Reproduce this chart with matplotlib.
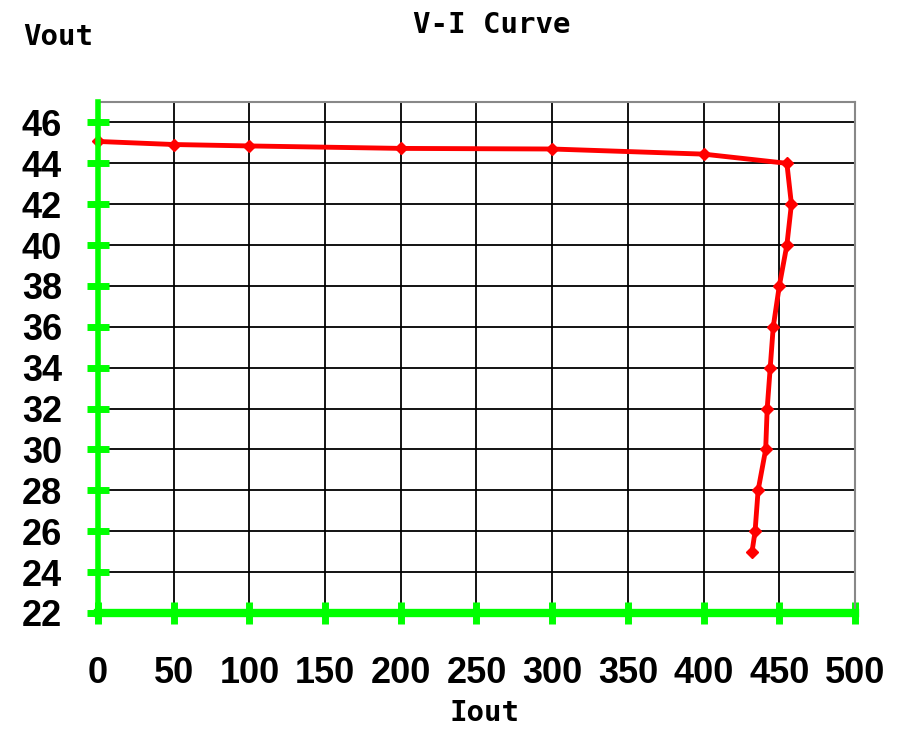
import matplotlib
matplotlib.use('Agg')
import matplotlib.pyplot as plt
import numpy as np

# V-I curve data
iout = [0, 50, 100, 200, 300, 400, 455, 458, 455, 450, 446, 444, 442, 441, 436, 434, 432]
vout = [45.07, 44.92, 44.85, 44.73, 44.7, 44.45, 44.0, 42.0, 40.0, 38.0, 36.0, 34.0, 32.0, 30.0, 28.0, 26.0, 25.0]

xticks = list(range(0, 501, 50))
yticks = list(range(22, 47, 2))

fig = plt.figure(figsize=(9.03, 7.3), dpi=100)
ax = fig.add_axes([98/903, 1-613/730, (855-98)/903, (613-102)/730])

ax.set_xlim(0, 500)
ax.set_ylim(22, 47)
ax.set_xticks(xticks)
ax.set_yticks(yticks)
ax.grid(True, color='black', linewidth=1.3)
ax.set_axisbelow(True)

ax.plot(iout, vout, color='red', linewidth=3.5, marker='D', markersize=6,
        markeredgecolor='red', zorder=5, clip_on=False)

for s in ['top', 'right']:
    ax.spines[s].set_color('#888888')
    ax.spines[s].set_linewidth(1.5)
for s in ['left', 'bottom']:
    ax.spines[s].set_color('#00ff00')
    ax.spines[s].set_zorder(6)
ax.spines['left'].set_linewidth(4)
ax.spines['bottom'].set_linewidth(6)

ax.tick_params(axis='both', direction='inout', color='#00ff00', length=16, width=5)
ax.tick_params(axis='x', pad=23)
ax.tick_params(axis='y', pad=18)
for lab in ax.get_xticklabels():
    lab.set_fontsize(26)
    lab.set_fontweight('bold')
    lab.set_family('Liberation Sans')
for lab in ax.get_yticklabels():
    lab.set_fontsize(26)
    lab.set_fontweight('bold')
    lab.set_family('Liberation Sans')

fig.text(0.545, 0.966, 'V-I Curve', ha='center', va='center', fontsize=21,
         family='DejaVu Sans Mono', fontweight='bold')
fig.text(0.064, 0.949, 'Vout', ha='center', va='center', fontsize=21,
         family='DejaVu Sans Mono', fontweight='bold')
fig.text(0.536, 0.023, 'Iout', ha='center', va='center', fontsize=21,
         family='DejaVu Sans Mono', fontweight='bold')

fig.savefig('out.png', dpi=100)
